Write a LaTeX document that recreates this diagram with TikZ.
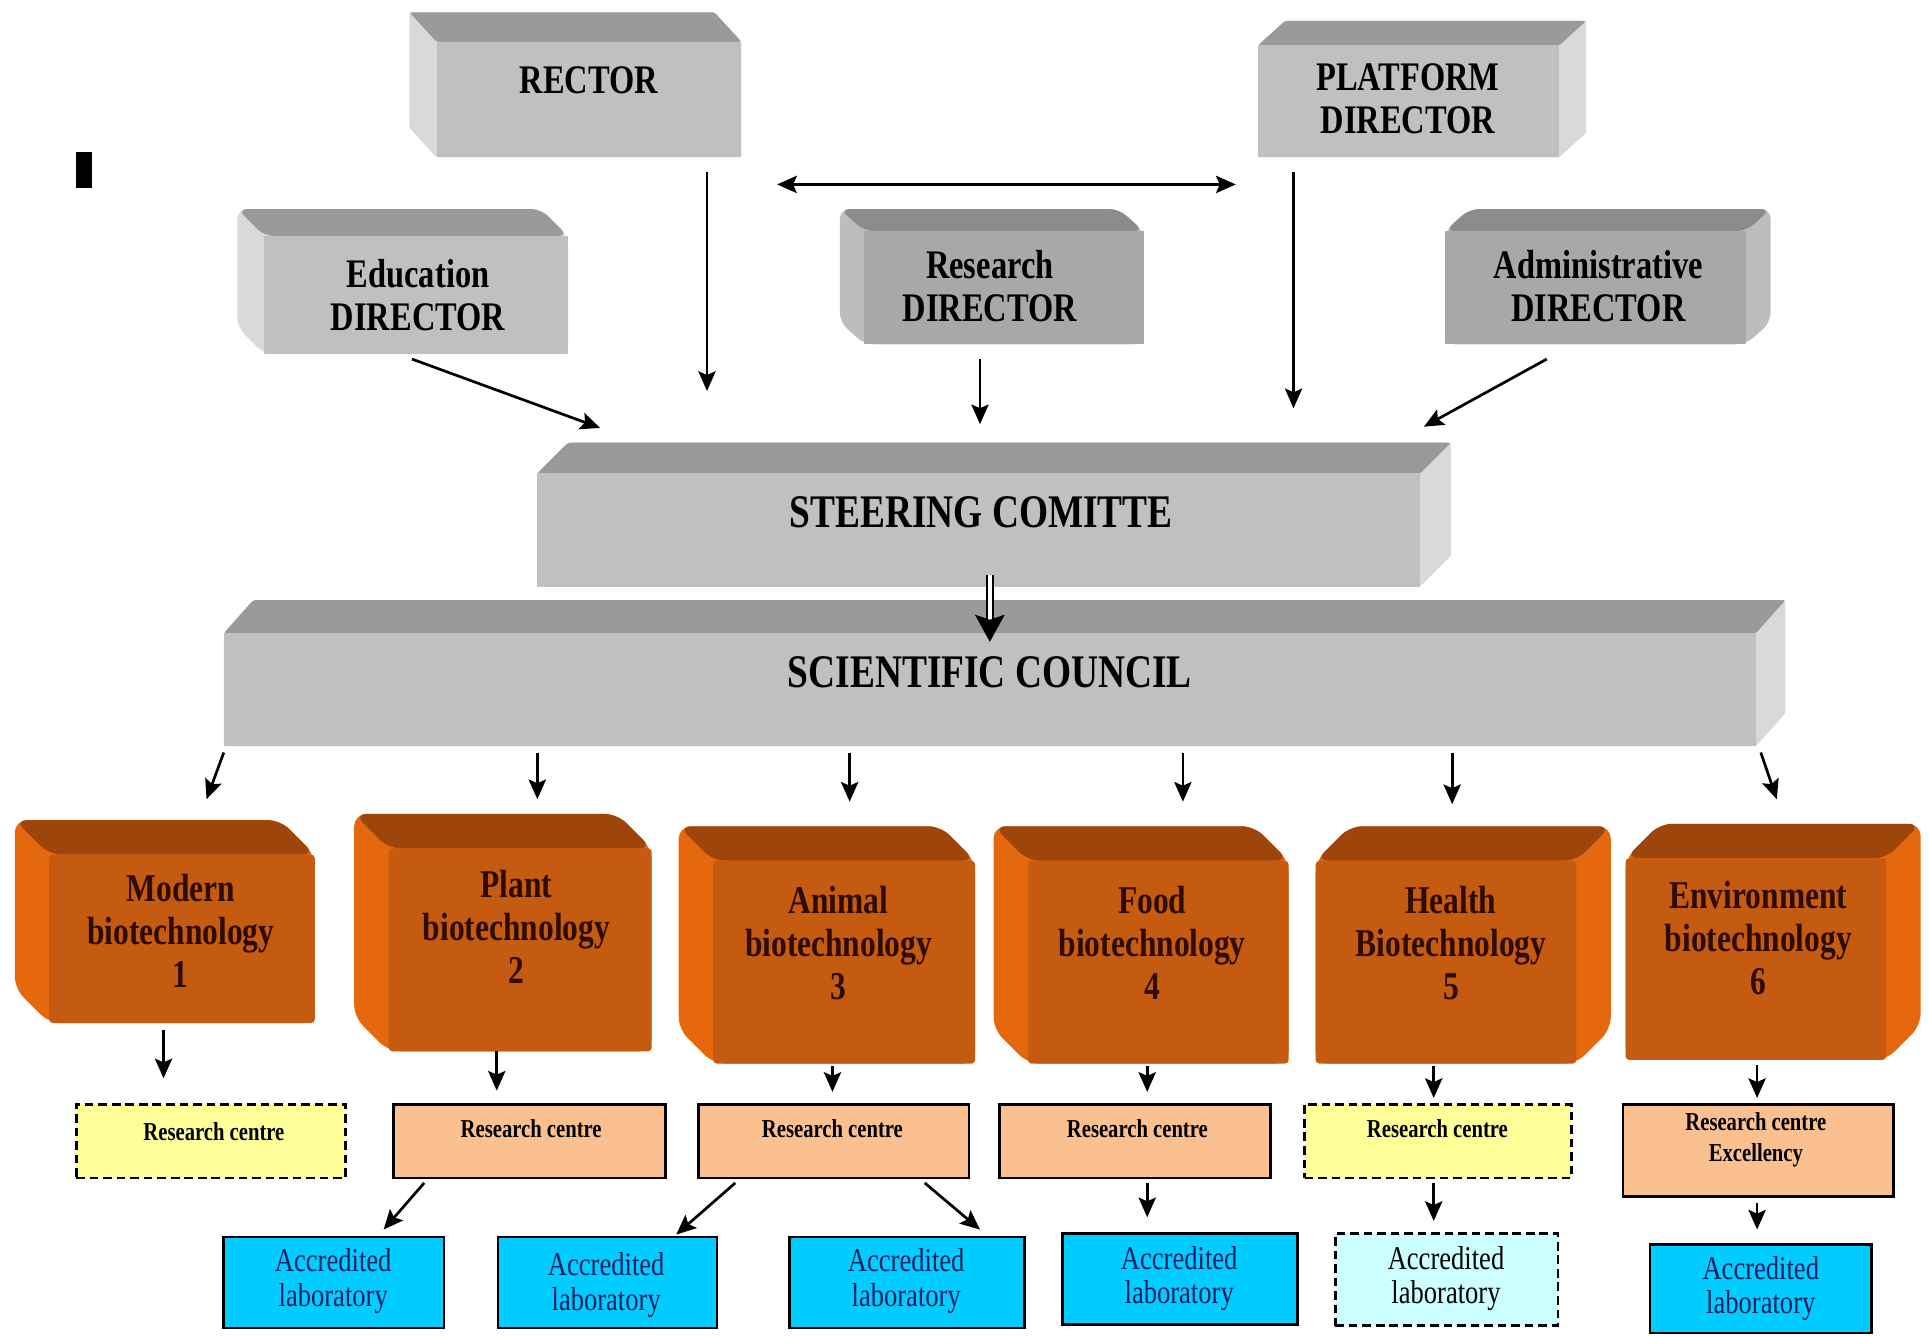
\documentclass[tikz,border=0pt]{standalone}
\usepackage{fontspec}
\newfontfamily\cf[FakeStretch=0.8]{Liberation Serif}
\usetikzlibrary{arrows.meta,calc}
\pgfdeclarelayer{bg}
\pgfsetlayers{bg,main}
\definecolor{gfront}{HTML}{C0C0C0}
\definecolor{gtop}{HTML}{9A9A9A}
\definecolor{gside}{HTML}{D9D9D9}
\definecolor{dfront}{HTML}{A8A8A8}
\definecolor{dtop}{HTML}{8C8C8C}
\definecolor{dside}{HTML}{BDBDBD}
\definecolor{ofront}{HTML}{C55A11}
\definecolor{otop}{HTML}{9E450C}
\definecolor{oside}{HTML}{E5680F}
\definecolor{otext}{HTML}{2E0C00}
\definecolor{peach}{HTML}{FAC090}
\definecolor{lyellow}{HTML}{FFFF99}
\definecolor{labblue}{HTML}{00CCFF}
\definecolor{lablight}{HTML}{CCFFFF}
\definecolor{labtext}{HTML}{0D1F5C}
\newcommand{\cubeL}[6]{%
\begin{pgfonlayer}{bg}
\fill[#5, rounded corners=#6] ([shift={(-#2,-#3)}]#1.north west) -- ([shift={(-#2,-#3)}]#1.north east) -- (#1.north east) -- (#1.south east) -- (#1.south west) -- ([shift={(-#2,-#3)}]#1.south west) -- cycle;
\fill[#4, rounded corners=#6] ([shift={(-#2,-#3)}]#1.north west) -- ([shift={(-#2,-#3)}]#1.north east) -- (#1.north east) -- (#1.north west) -- cycle;
\end{pgfonlayer}}
\newcommand{\cubeR}[6]{%
\begin{pgfonlayer}{bg}
\fill[#5, rounded corners=#6] (#1.north west) -- ([shift={(#2,-#3)}]#1.north west) -- ([shift={(#2,-#3)}]#1.north east) -- ([shift={(#2,-#3)}]#1.south east) -- (#1.south east) -- (#1.south west) -- cycle;
\fill[#4, rounded corners=#6] (#1.north west) -- ([shift={(#2,-#3)}]#1.north west) -- ([shift={(#2,-#3)}]#1.north east) -- (#1.north east) -- cycle;
\end{pgfonlayer}}
\tikzset{
 face/.style={inner sep=0pt, outer sep=0pt, anchor=center},
 gface/.style={face, fill=gfront},
 dface/.style={face, fill=dfront},
 oface/.style={face, fill=ofront, rounded corners=3pt},
 dtxt/.style={inner sep=0pt, align=center, font=\cf\bfseries\fontsize{33}{35}\selectfont},
 btxt/.style={inner sep=0pt, align=center, font=\cf\bfseries\fontsize{38}{40}\selectfont},
 otxt/.style={inner sep=0pt, align=center, text=otext, font=\cf\bfseries\fontsize{32}{35}\selectfont},
 rctxt/.style={inner sep=0pt, align=center, font=\cf\bfseries\fontsize{21}{25}\selectfont},
 labtxt/.style={inner sep=0pt, align=center, text=labtext, font=\cf\fontsize{27}{28}\selectfont},
 rcbox/.style={face, draw=black, line width=2.2pt, fill=peach},
 rcdash/.style={face, draw=black, line width=2.2pt, fill=lyellow, dash pattern=on 7pt off 4pt},
 labbox/.style={face, draw=black, line width=2.2pt, fill=labblue},
 labdash/.style={face, draw=black, line width=2.2pt, fill=lablight, dash pattern=on 7pt off 4pt},
 arr/.style={line width=2.2pt, -{Stealth[length=16pt,width=14pt,inset=3pt]}},
 arrtwo/.style={line width=2.4pt, {Stealth[length=16pt,width=14pt,inset=3pt]}-{Stealth[length=16pt,width=14pt,inset=3pt]}},
 dbl/.style={double, double distance=3pt, line width=2pt, -{Stealth[length=22pt,width=24pt,inset=4pt]}},
}
\begin{document}
\begin{tikzpicture}[x=1pt,y=-1pt]
\useasboundingbox (0,0) rectangle (1568,1086);
\fill[black] (62,124) rectangle (75,153);
% top level
\node[gface, minimum width=248pt, minimum height=94pt] (rector) at (479,81) {};
\cubeL{rector}{22}{24}{gtop}{gside}{2pt}
\node[dtxt] (rectorT) at (479,65) {RECTOR};
\node[gface, minimum width=245pt, minimum height=91pt] (platform) at (1145.5,82.5) {};
\cubeR{platform}{22}{20}{gtop}{gside}{2pt}
\node[dtxt] (platformT) at (1145,80) {PLATFORM\\DIRECTOR};
\node[gface, minimum width=247pt, minimum height=96pt] (edu) at (338.5,240) {};
\cubeL{edu}{22}{22}{gtop}{gside}{8pt}
\node[dtxt] (eduT) at (340,240) {Education\\DIRECTOR};
\node[dface, minimum width=227pt, minimum height=92pt] (res) at (816.5,234) {};
\cubeL{res}{20}{18}{dtop}{dside}{8pt}
\node[dtxt] (resT) at (805,233) {Research\\DIRECTOR};
\node[dface, minimum width=245pt, minimum height=92pt] (adm) at (1297.5,234) {};
\cubeR{adm}{20}{18}{dtop}{dside}{8pt}
\node[dtxt] (admT) at (1300,233) {Administrative\\DIRECTOR};
% committees
\node[gface, minimum width=718pt, minimum height=92pt] (steer) at (796,431) {};
\cubeR{steer}{25}{25}{gtop}{gside}{2pt}
\node[btxt] (steerT) at (798,417) {STEERING COMITTE};
\node[gface, minimum width=1246pt, minimum height=92pt] (sci) at (805,561) {};
\cubeR{sci}{24}{27}{gtop}{gside}{2pt}
\node[btxt] (sciT) at (805,547) {SCIENTIFIC COUNCIL};
% orange blocks
\node[oface, minimum width=216pt, minimum height=137pt] (m1) at (148,763.5) {};
\cubeL{m1}{28}{28}{otop}{oside}{10pt}
\node[otxt] (m1T) at (147,757) {Modern\\biotechnology\\1};
\node[oface, minimum width=214pt, minimum height=165pt] (p2) at (423,772.5) {};
\cubeL{p2}{28}{28}{otop}{oside}{10pt}
\node[otxt] (p2T) at (420,754) {Plant\\biotechnology\\2};
\node[oface, minimum width=213pt, minimum height=165pt] (a3) at (686.5,782.5) {};
\cubeL{a3}{28}{28}{otop}{oside}{10pt}
\node[otxt] (a3T) at (682,767) {Animal\\biotechnology\\3};
\node[oface, minimum width=212pt, minimum height=165pt] (f4) at (942,782.5) {};
\cubeL{f4}{28}{28}{otop}{oside}{10pt}
\node[otxt] (f4T) at (937,767) {Food\\biotechnology\\4};
\node[oface, minimum width=212pt, minimum height=165pt] (h5) at (1176,782.5) {};
\cubeR{h5}{28}{28}{otop}{oside}{10pt}
\node[otxt] (h5T) at (1180,767) {Health\\Biotechnology\\5};
\node[oface, minimum width=212pt, minimum height=164pt] (e6) at (1428,780) {};
\cubeR{e6}{28}{28}{otop}{oside}{10pt}
\node[otxt] (e6T) at (1430,763) {Environment\\biotechnology\\6};
% research centres
\node[rcdash, minimum width=219pt, minimum height=60pt] (rc1) at (171.5,928) {};
\node[rctxt] (rc1T) at (174,920) {Research centre};
\node[rcbox, minimum width=221pt, minimum height=60pt] (rc2) at (430.5,928) {};
\node[rctxt] (rc2T) at (432,918) {Research centre};
\node[rcbox, minimum width=220pt, minimum height=60pt] (rc3) at (678,928) {};
\node[rctxt] (rc3T) at (677,918) {Research centre};
\node[rcbox, minimum width=220pt, minimum height=60pt] (rc4) at (923,928) {};
\node[rctxt] (rc4T) at (925,918) {Research centre};
\node[rcdash, minimum width=217pt, minimum height=60pt] (rc5) at (1169.5,928) {};
\node[rctxt] (rc5T) at (1169,918) {Research centre};
\node[rcbox, minimum width=220pt, minimum height=75pt] (rc6) at (1430,935.5) {};
\node[rctxt] (rc6T) at (1428,927) {Research centre\\Excellency};
% labs
\node[labbox, minimum width=179pt, minimum height=74pt] (l1) at (271.5,1043) {};
\node[labtxt] (l1T) at (271,1042) {Accredited\\laboratory};
\node[labbox, minimum width=178pt, minimum height=74pt] (l2) at (494,1043) {};
\node[labtxt] (l2T) at (493,1045) {Accredited\\laboratory};
\node[labbox, minimum width=191pt, minimum height=74pt] (l3) at (737.5,1043) {};
\node[labtxt] (l3T) at (737,1042) {Accredited\\laboratory};
\node[labbox, minimum width=191pt, minimum height=74pt] (l4) at (959.5,1040) {};
\node[labtxt] (l4T) at (959,1040) {Accredited\\laboratory};
\node[labdash, minimum width=181pt, minimum height=75pt] (l5) at (1176.5,1040.5) {};
\node[labtxt, text=black] (l5T) at (1176,1040) {Accredited\\laboratory};
\node[labbox, minimum width=180pt, minimum height=72pt] (l6) at (1432,1048) {};
\node[labtxt] (l6T) at (1432,1048) {Accredited\\laboratory};
% arrows top
\draw[arrtwo] ($(rector.south east)+(29,22)$) -- ($(platform.south west)+(-18,22)$);
\draw[arr] ($(rector.south)+(96,12)$) -- ($(steer.north)+(-221,-67)$);
\draw[arr] ($(platform.south)+(-93.5,12)$) -- ($(steer.north)+(256,-53)$);
\draw[arr] ($(edu.south)+(-3.5,4)$) -- ($(steer.north)+(-308,-37)$);
\draw[arr] ($(res.south)+(-19.5,12)$) -- ($(steer.north)+(1,-40)$);
\draw[arr] ($(adm.south)+(-39.5,12)$) -- ($(steer.north)+(362,-38)$);
\draw[dbl] ($(steer.south)+(9,-9)$) -- ($(sci.north)+(0,7)$);
% council to blocks
\draw[arr] ($(sci.south west)+(0,5)$) -- ($(m1.north)+(20,-45)$);
\draw[arr] ($(sci.south west)+(255,5)$) -- ($(p2.north)+(14,-40)$);
\draw[arr] ($(sci.south west)+(509,5)$) -- ($(a3.north)+(4.5,-48)$);
\draw[arr] ($(sci.south west)+(780,5)$) -- ($(f4.north)+(20,-48)$);
\draw[arr] ($(sci.south west)+(999,5)$) -- ($(h5.north)+(5,-46)$);
\draw[arr] ($(sci.south east)+(4,5)$) -- ($(e6.north)+(17,-48)$);
% blocks to centres
\draw[arr] ($(m1.south)+(-15,6)$) -- ($(rc1.north)+(-38.5,-21)$);
\draw[arr] ($(p2.south)+(-19,0)$) -- ($(rc2.north)+(-26.5,-11)$);
\draw[arr] ($(a3.south)+(-9.5,2)$) -- ($(rc3.north)+(-1,-10)$);
\draw[arr] ($(f4.south)+(-9,2)$) -- ($(rc4.north)+(10,-10)$);
\draw[arr] ($(h5.south)+(-10,2)$) -- ($(rc5.north)+(-3.5,-5)$);
\draw[arr] ($(e6.south)+(1,4)$) -- ($(rc6.north)+(-1,-5)$);
% centres to labs
\draw[arr] ($(rc2.south)+(-85.5,4)$) -- ($(l1.north)+(40.5,-6)$);
\draw[arr] ($(rc3.south)+(-80,4)$) -- ($(l2.north)+(56,-2)$);
\draw[arr] ($(rc3.south)+(74,4)$) -- ($(l3.north)+(59.5,-6)$);
\draw[arr] ($(rc4.south)+(10,4)$) -- ($(l4.north)+(-26.5,-13)$);
\draw[arr] ($(rc5.south)+(-3.5,4)$) -- ($(l5.north)+(-10.5,-10)$);
\draw[arr] ($(rc6.south)+(-1,5)$) -- ($(l6.north)+(-3,-12)$);
\end{tikzpicture}
\end{document}
